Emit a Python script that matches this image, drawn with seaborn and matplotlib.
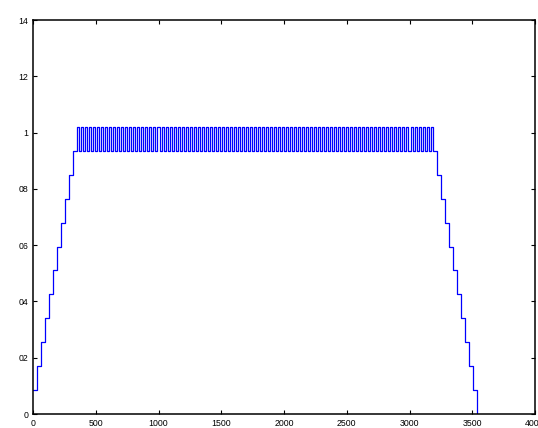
import numpy as np
import pandas as pd
import matplotlib
matplotlib.use("Agg")
import matplotlib.pyplot as plt
import seaborn as sns

# ---- data ----
# ramp up: 11 steps of 32 samples each, then the plateau
ramp_up_levels = [0.085, 0.17, 0.255, 0.34, 0.425, 0.51, 0.595, 0.68, 0.765, 0.85, 0.935]
ramp_step = 32
ramp_up_start = 0

# plateau: alternates between high and low every 16 samples
plateau_start = 352
plateau_pattern = [1.02, 0.935]
plateau_half = 16
plateau_halves = 177

# ramp down: 11 steps of 32 samples each, ending at zero
ramp_down_start = 3184
ramp_down_levels = [0.935, 0.85, 0.765, 0.68, 0.595, 0.51, 0.425, 0.34, 0.255, 0.17, 0.085]
end_level = 0.0

x_ticks = [0, 500, 1000, 1500, 2000, 2500, 3000, 3500, 4000]
x_tick_labels = ["0", "500", "1000", "1500", "2000", "2500", "3000", "3500", "4000"]
y_ticks = [0, 0.2, 0.4, 0.6, 0.8, 1.0, 1.2, 1.4]
y_tick_labels = ["0", "02", "04", "06", "08", "1", "12", "14"]

# ---- build the step series (segment start, value) ----
xs, ys = [], []
for i, v in enumerate(ramp_up_levels):
    xs.append(ramp_up_start + i * ramp_step)
    ys.append(v)
plateau_vals = np.tile(plateau_pattern, plateau_halves // 2 + 1)[:plateau_halves]
for i, v in enumerate(plateau_vals):
    xs.append(plateau_start + i * plateau_half)
    ys.append(v)
for i, v in enumerate(ramp_down_levels):
    xs.append(ramp_down_start + i * ramp_step)
    ys.append(v)
xs.append(ramp_down_start + len(ramp_down_levels) * ramp_step)
ys.append(end_level)

df = pd.DataFrame({"n": xs, "value": ys})

# ---- plot ----
sns.set_style("white")
plt.rcParams["font.family"] = ["Liberation Sans", "DejaVu Sans"]

fig = plt.figure(figsize=(5.38, 4.28), dpi=100)
ax = fig.add_axes([33 / 538, 14 / 428, 502 / 538, 394 / 428])

sns.lineplot(data=df, x="n", y="value", ax=ax, color="#0000ff", linewidth=0.9,
             drawstyle="steps-post", estimator=None, sort=False)

ax.set_xlim(0, 4000)
ax.set_ylim(0, 1.4)
ax.set_xticks(x_ticks)
ax.set_xticklabels(x_tick_labels)
ax.set_yticks(y_ticks)
ax.set_yticklabels(y_tick_labels)
ax.set_xlabel("")
ax.set_ylabel("")

for s in ax.spines.values():
    s.set_visible(True)
    s.set_color("black")
    s.set_linewidth(1.1)

ax.tick_params(direction="in", length=3.2, width=0.8, labelsize=6.3,
               top=True, right=True, bottom=True, left=True, pad=3.5,
               colors="black")

fig.savefig("out.png", dpi=100)
